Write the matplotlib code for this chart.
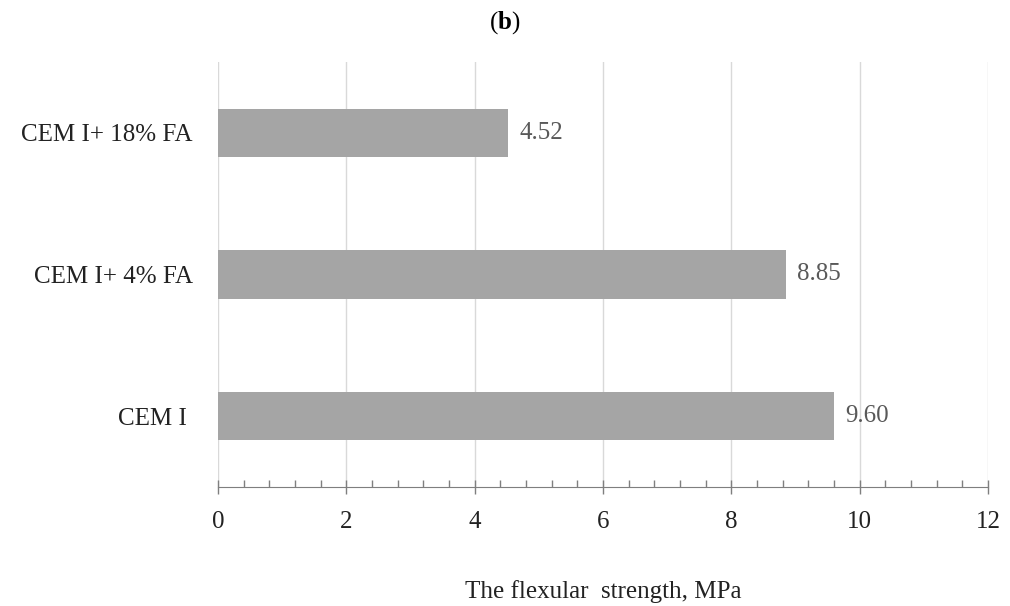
import matplotlib
matplotlib.use('Agg')
import matplotlib.pyplot as plt
from matplotlib.ticker import MultipleLocator

categories = ['CEM I ', 'CEM I+ 4% FA', 'CEM I+ 18% FA']
strength = [9.60, 8.85, 4.52]

plt.rcParams['font.family'] = ['Liberation Serif', 'DejaVu Serif']
plt.rcParams['mathtext.fontset'] = 'custom'
plt.rcParams['mathtext.rm'] = 'Liberation Serif'
plt.rcParams['mathtext.bf'] = 'Liberation Serif:bold'

fig = plt.figure(figsize=(10.1, 6.06), dpi=100)
ax = fig.add_axes([0.2158, 0.1964, 0.7624, 0.7013])

bars = ax.barh(range(len(categories)), strength, height=0.34, color='#a5a5a5', zorder=3)
ax.bar_label(bars, labels=['%.2f' % v for v in strength], padding=8,
             fontsize=18, color='#595959')

ax.set_xlim(0, 12)
ax.set_ylim(-0.5, 2.5)
ax.set_yticks(range(len(categories)))
ax.set_yticklabels(categories, fontsize=18, color='#222222')
ax.tick_params(axis='y', length=0, pad=18)

ax.xaxis.set_major_locator(MultipleLocator(2))
ax.xaxis.set_minor_locator(MultipleLocator(0.4))
ax.tick_params(axis='x', which='major', direction='inout', length=10, width=1,
               color='#7f7f7f', labelsize=18, labelcolor='#222222', pad=12)
ax.tick_params(axis='x', which='minor', direction='in', length=5, width=1, color='#7f7f7f')
ax.grid(axis='x', which='major', color='#d9d9d9', linewidth=1, zorder=0)

for s in ['top', 'right', 'left']:
    ax.spines[s].set_visible(False)
ax.spines['bottom'].set_color('#7f7f7f')

ax.set_xlabel('The flexular  strength, MPa', fontsize=18, color='#222222', labelpad=34)

fig.text(0.5, 0.962, r'($\mathbf{b}$)', ha='center', va='center', fontsize=18)

fig.savefig('out.png', dpi=100)
